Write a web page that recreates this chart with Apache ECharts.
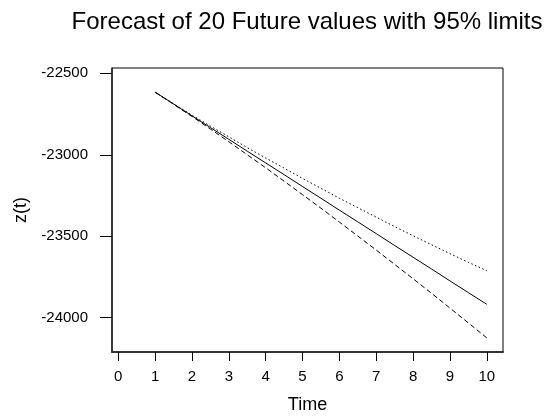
<!DOCTYPE html>
<html>
<head>
<meta charset="utf-8">
<script src="https://cdn.jsdelivr.net/npm/echarts@6/dist/echarts.min.js"></script>
<style>html,body{margin:0;padding:0;background:#fff}#c{width:546px;height:419px}</style>
</head>
<body>
<div id="c"></div>
<script>
var times = [1, 1.5, 2, 2.5, 3, 3.5, 4, 4.5, 5, 5.5, 6, 6.5, 7, 7.5, 8, 8.5, 9, 9.5, 10];
var forecast = [-22616, -22688, -22761, -22833, -22905, -22978, -23050, -23122, -23195, -23267, -23340, -23412, -23484, -23557, -23629, -23701, -23774, -23846, -23918];
var upper = [-22616, -22687, -22757, -22824, -22890, -22956, -23020, -23082, -23145, -23206, -23267, -23325, -23383, -23441, -23497, -23552, -23607, -23660, -23712];
var lower = [-22616, -22690, -22765, -22842, -22920, -23000, -23080, -23162, -23245, -23328, -23413, -23499, -23585, -23673, -23761, -23850, -23941, -24032, -24124];
var xTicks = [0, 1, 2, 3, 4, 5, 6, 7, 8, 9, 10];
var yTicks = [-24000, -23500, -23000, -22500];

function pairs(ys) { return times.map(function (t, i) { return [t, ys[i]]; }); }

var font = 'Liberation Sans, Arial, sans-serif';
var chart = echarts.init(document.getElementById('c'), null, { renderer: 'canvas' });
chart.setOption({
  animation: false,
  backgroundColor: '#fff',
  title: {
    text: 'Forecast of 20 Future values with 95% limits',
    left: 302, top: 5, textAlign: 'center',
    textStyle: { fontFamily: font, fontSize: 24, fontWeight: 'normal', color: '#000' }
  },
  grid: { left: 112, top: 68, width: 391, height: 285, show: true, borderColor: '#000', borderWidth: 1, backgroundColor: 'transparent' },
  xAxis: {
    type: 'value', min: -0.17, max: 10.44,
    name: 'Time', nameLocation: 'middle', nameGap: 44,
    nameTextStyle: { fontFamily: font, fontSize: 18, color: '#000' },
    axisLine: { show: true, onZero: false, lineStyle: { color: '#333', width: 2 } },
    axisTick: { show: true, length: 9, customValues: xTicks, lineStyle: { color: '#000', width: 1 } },
    axisLabel: { customValues: xTicks, margin: 17, fontFamily: font, fontSize: 15, color: '#000' },
    splitLine: { show: false }
  },
  yAxis: {
    type: 'value', min: -24210.6, max: -22467.5,
    name: 'z(t)', nameLocation: 'middle', nameGap: 56, nameRotate: 90,
    nameTextStyle: { fontFamily: font, fontSize: 18, color: '#000' },
    axisLine: { show: true, onZero: false, lineStyle: { color: '#222', width: 1.5 } },
    axisTick: { show: true, length: 12, customValues: yTicks, lineStyle: { color: '#000', width: 1 } },
    axisLabel: { customValues: yTicks, margin: 24, fontFamily: font, fontSize: 15, color: '#000',
      formatter: function (v) { return String(v); } },
    splitLine: { show: false }
  },
  series: [
    { type: 'line', data: pairs(upper), showSymbol: false, symbol: 'none', lineStyle: { color: '#000', width: 1, type: [1.5, 2.5] } },
    { type: 'line', data: pairs(lower), showSymbol: false, symbol: 'none', lineStyle: { color: '#000', width: 1, type: [5, 3] } },
    { type: 'line', data: pairs(forecast), showSymbol: false, symbol: 'none', lineStyle: { color: '#000', width: 1, type: 'solid' } }
  ]
});
</script>
</body>
</html>
